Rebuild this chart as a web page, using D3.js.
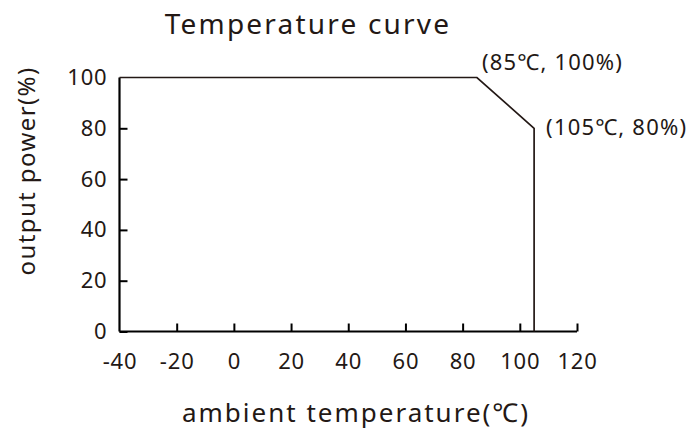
<!DOCTYPE html>
<html>
<head>
<meta charset="utf-8">
<script src="https://cdn.jsdelivr.net/npm/d3@7"></script>
<style>
  html, body { margin: 0; padding: 0; background: #fff; }
  svg text { font-family: "Noto Sans", "Open Sans", sans-serif; fill: #231815; }
</style>
</head>
<body>
<svg id="chart" width="689" height="430"></svg>
<script>
// ---- data ----
const temperatures = [-40, 85, 105, 105];
const powerValues = [100, 100, 80, 0];
const xTicks = [-40, -20, 0, 20, 40, 60, 80, 100, 120];
const yTicks = [0, 20, 40, 60, 80, 100];
const annotationTemps = [85, 105];
const annotationPowers = [100, 80];
const annotationLabels = ["(85℃, 100%)", "(105℃, 80%)"];
const titleText = "Temperature curve";
const xLabel = "ambient temperature(℃)";
const yLabel = "output power(%)";

// ---- layout ----
const svg = d3.select("#chart");
const x = d3.scaleLinear().domain([-40, 120]).range([119.5, 577]);
const y = d3.scaleLinear().domain([0, 100]).range([331.5, 77.5]);

// axes
const fmt = d => String(d);
const xAxis = d3.axisBottom(x).tickValues(xTicks).tickSize(-8).tickPadding(22).tickFormat(fmt);
const yAxis = d3.axisLeft(y).tickValues(yTicks).tickSize(-8).tickPadding(12).tickFormat(fmt);

const gx = svg.append("g").attr("transform", `translate(0,${y(0)})`).call(xAxis);
const gy = svg.append("g").attr("transform", `translate(${x(-40)},0)`).call(yAxis);

[gx, gy].forEach(g => {
  g.select(".domain").attr("stroke", "#000").attr("stroke-width", 2.2);
  g.selectAll(".tick line").attr("stroke", "#000").attr("stroke-width", 2);
  g.selectAll(".tick text").style("font-size", "22px").style("letter-spacing", "0.8px").attr("fill", "#000");
});
gx.select(".domain").attr("d", `M${x(-40)},0H${x(120)}`);
gy.select(".domain").attr("d", `M0,${y(0)}V${y(100)}`);
gy.selectAll(".tick").filter(d => d === 100).select("line").remove();
gx.selectAll(".tick").filter(d => d === -40).select("line").remove();

// curve
const line = d3.line().x((d, i) => x(temperatures[i])).y((d, i) => y(powerValues[i]));
svg.append("path")
  .datum(temperatures)
  .attr("d", line)
  .attr("fill", "none")
  .attr("stroke", "#231815")
  .attr("stroke-width", 1.7);

// annotations
const annOffsets = [[5, -8], [12, 7]];
annotationLabels.forEach((t, i) => {
  svg.append("text")
    .attr("x", x(annotationTemps[i]) + annOffsets[i][0])
    .attr("y", y(annotationPowers[i]) + annOffsets[i][1])
    .style("font-size", "22px")
    .style("letter-spacing", "1.2px")
    .text(t);
});

// title
svg.append("text")
  .attr("x", 308).attr("y", 34)
  .attr("text-anchor", "middle")
  .style("font-size", "28px")
  .style("letter-spacing", "2.2px")
  .text(titleText);

// x label
svg.append("text")
  .attr("x", 356).attr("y", 422)
  .attr("text-anchor", "middle")
  .style("font-size", "26px")
  .style("letter-spacing", "2px")
  .text(xLabel);

// y label
svg.append("text")
  .attr("transform", `translate(35,171) rotate(-90)`)
  .attr("text-anchor", "middle")
  .style("font-size", "24px")
  .style("letter-spacing", "1.4px")
  .text(yLabel);
</script>
</body>
</html>
